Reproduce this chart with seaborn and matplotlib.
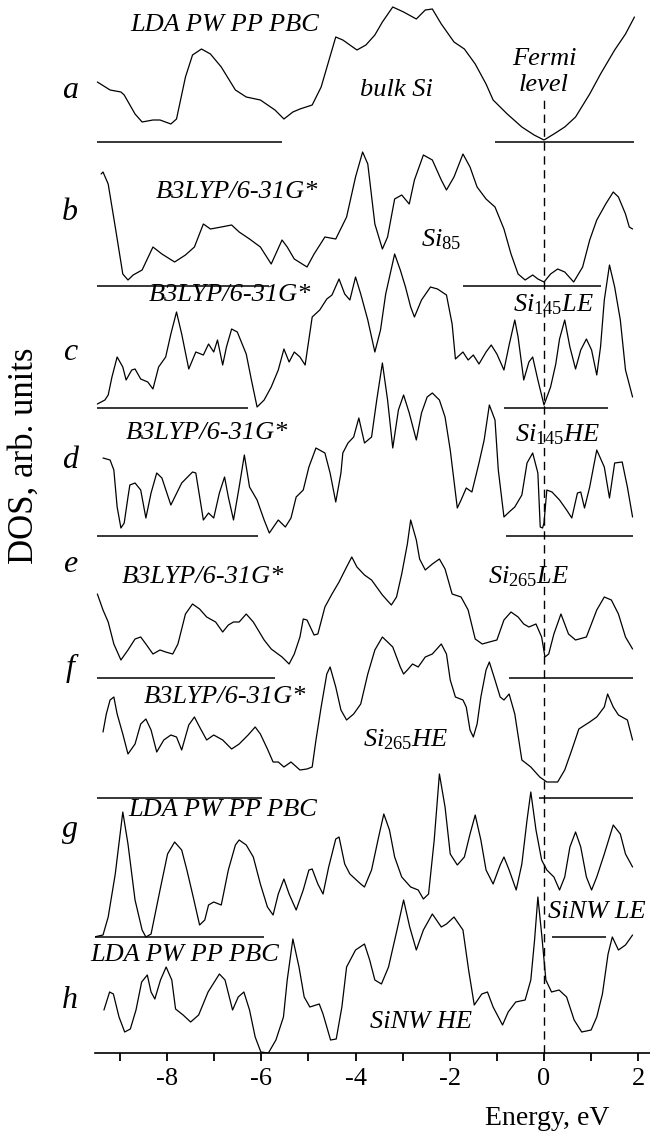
import numpy as np
import matplotlib
matplotlib.use("Agg")
import matplotlib.pyplot as plt
import seaborn as sns

# ---- data: energy (eV) and DOS (arb. units) for every curve ----
energy_a = [-9.48, -9.21, -8.98, -8.91, -8.68, -8.53, -8.30, -8.15, -7.92, -7.80, -7.61, -7.46, -7.27, -7.08,
            -6.85, -6.55, -6.32, -6.02, -5.71, -5.52, -5.33, -5.18, -4.92, -4.73, -4.42, -4.27, -3.97, -3.78,
            -3.59, -3.43, -3.21, -2.98, -2.71, -2.52, -2.37, -2.18, -1.91, -1.69, -1.46, -1.23, -1.08, -0.78,
            -0.47, -0.21, 0.0, 0.21, 0.44, 0.67, 0.97, 1.20, 1.50, 1.73, 1.92]
dos_a = [60, 52, 50, 47, 28, 20, 22, 22, 18, 23, 65, 87, 93, 88, 75, 52, 45, 42, 32, 23, 30, 33, 37, 55, 105,
         102, 92, 97, 107, 120, 135, 130, 123, 132, 133, 118, 100, 93, 78, 58, 42, 28, 15, 7, 2, 8, 15, 25, 48,
         68, 92, 108, 125]

energy_b = [-9.40, -9.36, -9.25, -9.10, -8.94, -8.83, -8.72, -8.53, -8.30, -8.11, -7.84, -7.61, -7.42, -7.23,
            -7.08, -6.85, -6.63, -6.47, -6.25, -6.02, -5.79, -5.56, -5.45, -5.30, -5.03, -4.88, -4.65, -4.42,
            -4.19, -4.00, -3.85, -3.74, -3.59, -3.43, -3.32, -3.17, -3.02, -2.86, -2.75, -2.56, -2.37, -2.18,
            -2.07, -1.91, -1.72, -1.57, -1.42, -1.23, -1.04, -0.85, -0.70, -0.55, -0.40, -0.24, -0.13, 0.0,
            0.14, 0.29, 0.44, 0.63, 0.82, 0.97, 1.12, 1.31, 1.47, 1.58, 1.73, 1.81, 1.88]
dos_b = [112, 114, 102, 59, 12, 6, 11, 16, 39, 32, 24, 31, 39, 62, 57, 59, 61, 54, 47, 39, 22, 46, 39, 27, 19,
         32, 49, 47, 69, 109, 134, 122, 62, 37, 49, 87, 91, 82, 106, 131, 126, 106, 96, 109, 132, 119, 99, 87,
         79, 57, 32, 12, 6, 11, 7, 4, 12, 17, 14, 4, 19, 46, 66, 82, 94, 89, 72, 59, 57]

energy_c = [-9.48, -9.32, -9.25, -9.17, -9.06, -8.94, -8.87, -8.75, -8.68, -8.56, -8.41, -8.30, -8.18, -8.03,
            -7.92, -7.80, -7.69, -7.54, -7.39, -7.23, -7.12, -7.01, -6.93, -6.82, -6.74, -6.63, -6.51, -6.32,
            -6.21, -6.09, -5.94, -5.79, -5.64, -5.52, -5.41, -5.30, -5.18, -5.07, -4.92, -4.76, -4.61, -4.50,
            -4.35, -4.23, -4.12, -4.00, -3.89, -3.74, -3.59, -3.47, -3.36, -3.17, -3.05, -2.94, -2.83, -2.75,
            -2.60, -2.41, -2.26, -2.07, -1.95, -1.88, -1.72, -1.61, -1.50, -1.38, -1.23, -1.12, -1.00, -0.85,
            -0.74, -0.62, -0.55, -0.43, -0.32, -0.24, -0.13, 0.0, 0.14, 0.25, 0.33, 0.44, 0.55, 0.67, 0.78,
            0.90, 1.01, 1.12, 1.20, 1.28, 1.39, 1.50, 1.62, 1.73, 1.88]
dos_c = [4, 8, 13, 31, 51, 41, 28, 38, 39, 29, 26, 19, 41, 51, 74, 96, 74, 39, 56, 53, 64, 56, 68, 43, 61, 79,
         76, 54, 28, 1, 8, 21, 38, 59, 46, 56, 51, 43, 91, 98, 109, 113, 129, 114, 108, 131, 114, 88, 56, 78,
         114, 154, 138, 121, 101, 91, 108, 121, 119, 113, 84, 49, 56, 48, 53, 44, 56, 63, 54, 38, 63, 88, 71,
         28, 46, 51, 28, 3, 21, 44, 69, 88, 61, 39, 58, 69, 58, 33, 61, 108, 143, 121, 88, 38, 11]

energy_d = [-9.36, -9.21, -9.13, -9.06, -8.98, -8.91, -8.83, -8.79, -8.68, -8.56, -8.45, -8.34, -8.22, -8.11,
            -7.92, -7.69, -7.46, -7.39, -7.23, -7.12, -7.01, -6.89, -6.78, -6.70, -6.59, -6.47, -6.36, -6.25,
            -6.09, -5.94, -5.83, -5.64, -5.49, -5.37, -5.26, -5.11, -4.99, -4.84, -4.65, -4.54, -4.42, -4.31,
            -4.27, -4.16, -4.04, -3.93, -3.81, -3.66, -3.55, -3.43, -3.32, -3.21, -3.09, -2.98, -2.86, -2.71,
            -2.60, -2.48, -2.37, -2.22, -2.10, -1.99, -1.84, -1.76, -1.65, -1.53, -1.38, -1.27, -1.16, -1.04,
            -0.97, -0.85, -0.74, -0.62, -0.47, -0.36, -0.24, -0.13, -0.08, -0.03, 0.0, 0.06, 0.17, 0.33, 0.48,
            0.59, 0.71, 0.78, 0.86, 0.97, 1.12, 1.28, 1.39, 1.50, 1.66, 1.77, 1.88]
dos_d = [78, 76, 66, 29, 8, 13, 39, 51, 53, 46, 18, 43, 63, 58, 31, 53, 64, 63, 16, 23, 18, 43, 59, 39, 16, 49,
         81, 49, 36, 16, 3, 16, 9, 18, 39, 46, 69, 88, 83, 63, 34, 63, 83, 93, 99, 118, 93, 99, 136, 173, 136,
         88, 126, 141, 123, 96, 123, 139, 143, 136, 119, 86, 28, 36, 48, 44, 73, 96, 131, 116, 66, 19, 24, 29,
         41, 73, 83, 63, 9, 8, 13, 46, 44, 36, 26, 18, 43, 44, 28, 49, 86, 69, 38, 73, 74, 49, 19]

energy_e = [-9.48, -9.36, -9.25, -9.13, -8.98, -8.83, -8.68, -8.56, -8.45, -8.30, -8.15, -8.03, -7.88, -7.77,
            -7.61, -7.46, -7.31, -7.16, -6.97, -6.82, -6.70, -6.59, -6.47, -6.32, -6.17, -5.94, -5.79, -5.56,
            -5.41, -5.30, -5.18, -5.11, -5.03, -4.88, -4.80, -4.65, -4.50, -4.35, -4.19, -4.08, -3.97, -3.81,
            -3.66, -3.43, -3.24, -3.13, -3.02, -2.90, -2.83, -2.71, -2.64, -2.52, -2.37, -2.22, -2.10, -1.95,
            -1.76, -1.61, -1.46, -1.31, -1.16, -1.00, -0.85, -0.70, -0.55, -0.43, -0.32, -0.17, -0.05, 0.02,
            0.10, 0.21, 0.36, 0.52, 0.67, 0.90, 1.12, 1.28, 1.43, 1.58, 1.73, 1.88]
dos_e = [84, 68, 56, 34, 18, 28, 39, 41, 34, 24, 28, 26, 24, 34, 64, 74, 69, 61, 56, 46, 53, 56, 56, 64, 56, 38,
         29, 21, 14, 24, 41, 59, 58, 43, 44, 71, 84, 96, 111, 121, 111, 103, 98, 83, 73, 81, 104, 134, 158, 138,
         119, 108, 114, 119, 109, 84, 81, 68, 39, 34, 36, 38, 58, 66, 61, 54, 51, 54, 41, 21, 24, 44, 64, 44,
         38, 41, 68, 81, 78, 64, 41, 29]

energy_f = [-9.36, -9.29, -9.21, -9.13, -9.06, -8.94, -8.83, -8.68, -8.56, -8.45, -8.34, -8.22, -8.07, -7.92,
            -7.80, -7.69, -7.54, -7.42, -7.31, -7.16, -7.01, -6.82, -6.63, -6.47, -6.28, -6.13, -6.02, -5.87,
            -5.75, -5.64, -5.52, -5.37, -5.18, -5.03, -4.92, -4.84, -4.73, -4.61, -4.54, -4.42, -4.31, -4.19,
            -4.04, -3.89, -3.74, -3.59, -3.43, -3.32, -3.21, -3.05, -2.98, -2.90, -2.79, -2.67, -2.52, -2.37,
            -2.18, -2.07, -1.99, -1.88, -1.72, -1.65, -1.57, -1.50, -1.42, -1.34, -1.23, -1.16, -1.04, -0.93,
            -0.85, -0.74, -0.62, -0.47, -0.28, -0.09, 0.06, 0.29, 0.44, 0.59, 0.74, 0.97, 1.12, 1.28, 1.35,
            1.47, 1.58, 1.77, 1.88]
dos_f = [66, 84, 98, 101, 84, 64, 44, 54, 74, 79, 68, 46, 58, 63, 61, 48, 73, 81, 71, 58, 63, 58, 49, 54, 63,
         71, 64, 49, 36, 36, 31, 36, 28, 29, 31, 58, 91, 124, 131, 111, 88, 78, 84, 94, 124, 148, 161, 156, 151,
         131, 124, 128, 134, 131, 141, 144, 154, 144, 118, 101, 98, 91, 68, 61, 74, 101, 128, 136, 118, 101, 98,
         104, 84, 38, 31, 21, 16, 16, 28, 48, 69, 76, 81, 91, 104, 91, 83, 78, 58]

energy_g = [-9.55, -9.36, -9.25, -9.10, -8.94, -8.83, -8.68, -8.53, -8.45, -8.34, -8.15, -7.99, -7.84, -7.69,
            -7.58, -7.46, -7.31, -7.20, -7.12, -7.01, -6.85, -6.70, -6.55, -6.47, -6.32, -6.17, -6.02, -5.87,
            -5.75, -5.64, -5.52, -5.41, -5.26, -5.11, -4.99, -4.92, -4.80, -4.69, -4.57, -4.42, -4.35, -4.23,
            -4.12, -3.89, -3.81, -3.66, -3.51, -3.40, -3.28, -3.17, -3.02, -2.83, -2.67, -2.56, -2.45, -2.33,
            -2.22, -2.10, -1.99, -1.84, -1.69, -1.57, -1.46, -1.34, -1.23, -1.08, -0.93, -0.85, -0.74, -0.59,
            -0.47, -0.36, -0.28, -0.17, -0.05, 0.06, 0.21, 0.33, 0.44, 0.55, 0.67, 0.78, 0.90, 1.01, 1.12, 1.28,
            1.47, 1.62, 1.73, 1.88]
dos_g = [0, 2, 20, 63, 125, 93, 37, 7, 0, 3, 47, 83, 95, 87, 67, 43, 12, 17, 32, 35, 32, 67, 92, 97, 92, 80, 53,
         30, 22, 43, 58, 43, 27, 47, 67, 68, 53, 43, 70, 98, 100, 73, 63, 53, 50, 67, 100, 123, 107, 80, 60, 50,
         47, 38, 43, 97, 163, 130, 83, 72, 80, 103, 122, 97, 67, 53, 72, 80, 67, 47, 73, 117, 145, 107, 77, 67,
         60, 47, 60, 90, 105, 90, 60, 47, 60, 83, 112, 103, 83, 70]

energy_h = [-9.34, -9.22, -9.14, -9.02, -8.90, -8.78, -8.66, -8.54, -8.42, -8.34, -8.26, -8.14, -8.02, -7.90,
            -7.82, -7.66, -7.50, -7.33, -7.13, -6.89, -6.77, -6.61, -6.49, -6.37, -6.25, -6.13, -6.01, -5.85,
            -5.69, -5.53, -5.45, -5.33, -5.20, -5.09, -4.97, -4.77, -4.69, -4.53, -4.41, -4.29, -4.19, -4.00,
            -3.81, -3.70, -3.59, -3.45, -3.30, -3.12, -2.98, -2.85, -2.71, -2.56, -2.37, -2.18, -2.07, -1.91,
            -1.72, -1.60, -1.48, -1.32, -1.20, -1.08, -0.88, -0.76, -0.60, -0.40, -0.28, -0.20, -0.13, -0.05,
            0.04, 0.16, 0.32, 0.48, 0.64, 0.80, 1.00, 1.12, 1.24, 1.36, 1.45, 1.58, 1.73, 1.88]
dos_h = [43, 61, 59, 36, 21, 24, 43, 71, 78, 61, 54, 73, 86, 73, 44, 38, 31, 38, 61, 79, 73, 43, 56, 61, 43, 16,
         1, 0, 13, 36, 73, 114, 86, 56, 46, 49, 39, 13, 14, 46, 86, 103, 109, 93, 73, 69, 86, 123, 153, 126, 103,
         123, 139, 126, 129, 136, 123, 83, 48, 59, 61, 46, 28, 41, 51, 53, 73, 113, 156, 119, 73, 61, 63, 56,
         33, 21, 23, 36, 59, 99, 116, 103, 108, 118]

panel_letters = ["a", "b", "c", "d", "e", "f", "g", "h"]
energies = [energy_a, energy_b, energy_c, energy_d, energy_e, energy_f, energy_g, energy_h]
dos_values = [dos_a, dos_b, dos_c, dos_d, dos_e, dos_f, dos_g, dos_h]

# zero-DOS reference segments drawn under each curve (eV ranges)
zero_segments = [
    [(-9.48, -5.56), (-1.04, 1.92)],
    [(-9.48, -5.83), (-1.72, 1.20)],
    [(-9.48, -6.28), (-0.85, 1.35)],
    [(-9.48, -6.06), (-0.81, 1.88)],
    [(-9.48, -5.71), (-0.74, 1.88)],
    [(-9.48, -5.98), (-0.11, 1.88)],
    [(-9.55, -5.94), (0.17, 1.31)],
    [],
]

# vertical shift of each curve and height of its letter (layout)
offsets = [911, 767, 645, 517, 375, 255, 116, 0]
letter_y = [963, 840, 700, 593, 488, 385, 224, 52]

# annotations: (text, energy, y)
notes = [
    ("LDA PW PP PBC", -6.78, 1028),
    ("bulk Si", -3.13, 963),
    ("B3LYP/6-31G*", -6.51, 861),
    (r"$Si_{85}$", -2.18, 813),
    ("B3LYP/6-31G*", -6.66, 758),
    (r"$Si_{145}LE$", 0.21, 748),
    ("B3LYP/6-31G*", -7.16, 620),
    (r"$Si_{145}HE$", 0.29, 618),
    ("B3LYP/6-31G*", -7.23, 476),
    (r"$Si_{265}LE$", -0.32, 476),
    ("B3LYP/6-31G*", -6.78, 356),
    (r"$Si_{265}HE$", -2.94, 313),
    ("LDA PW PP PBC", -6.82, 243),
    ("SiNW LE", 1.12, 141),
    ("LDA PW PP PBC", -7.63, 98),
    ("SiNW HE", -2.61, 31),
]

sns.set_theme(style="white")
plt.rcParams["font.family"] = ["Liberation Serif", "DejaVu Serif"]
plt.rcParams["mathtext.fontset"] = "custom"
plt.rcParams["mathtext.it"] = "Liberation Serif:italic"
plt.rcParams["mathtext.rm"] = "Liberation Serif"
plt.rcParams["mathtext.default"] = "it"
plt.rcParams["axes.unicode_minus"] = False
plt.rcParams["text.color"] = "black"
plt.rcParams["axes.labelcolor"] = "black"
plt.rcParams["xtick.color"] = "black"

fig = plt.figure(figsize=(6.5, 11.33), dpi=100)
ax = fig.add_axes([95 / 650, 1 - 1053 / 1133, 555 / 650, 1053 / 1133])

for letter, en, dos, off, segs, ly in zip(panel_letters, energies, dos_values, offsets, zero_segments, letter_y):
    sns.lineplot(x=np.array(en), y=np.array(dos) + off, ax=ax, color="black",
                 linewidth=0.9, sort=False, estimator=None)
    for x0, x1 in segs:
        ax.hlines(off, x0, x1, color="black", linewidth=1.1)
    ax.text(-0.045, ly, letter, transform=ax.get_yaxis_transform(), ha="center", va="center",
            fontsize=23, style="italic")

for txt, x, y in notes:
    ax.text(x, y, txt, ha="center", va="center", fontsize=19, style="italic")

ax.text(0, 981, "Fermi\nlevel", ha="center", va="center", fontsize=19, style="italic",
        linespacing=1.25)
ax.plot([0, 0], [0, 953], color="black", linewidth=1.0, linestyle=(0, (6, 4)))

ax.set_xlim(-9.53, 2.25)
ax.set_ylim(0, 1053)
ax.set_xticks([-8, -6, -4, -2, 0, 2])
ax.set_xticks([-9, -7, -5, -3, -1, 1], minor=True)
ax.set_yticks([])
ax.tick_params(axis="x", which="both", direction="out", length=6, width=1.3, labelsize=19,
               bottom=True, pad=5)
for side in ["top", "right", "left"]:
    ax.spines[side].set_visible(False)
ax.spines["bottom"].set_linewidth(1.2)
ax.spines["bottom"].set_color("black")

ax.set_xlabel("Energy, eV", fontsize=20)
ax.xaxis.set_label_coords(0.814, -0.05)
fig.text(24 / 650, 1 - 456 / 1133, "DOS, arb. units", rotation=90, ha="center", va="center",
         fontsize=25)

fig.savefig("out.png", dpi=100)
